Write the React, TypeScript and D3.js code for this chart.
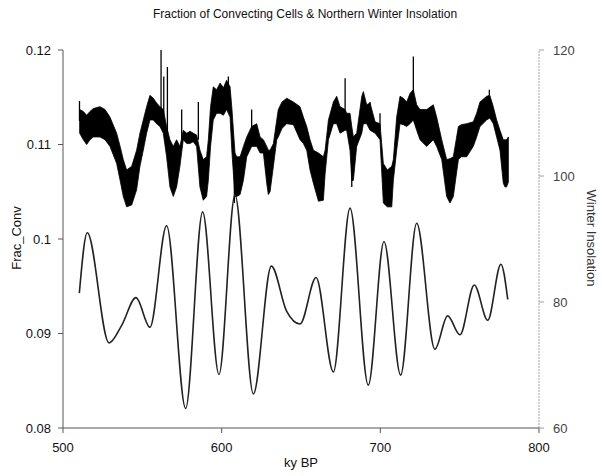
import React from "react";
import * as d3 from "d3";

// ---- Data ----
const xTicks = [500, 600, 700, 800];
const leftTicks = [0.08, 0.09, 0.1, 0.11, 0.12];
const leftTickLabels = ["0.08", "0.09", "0.1", "0.11", "0.12"];
const rightTicks = [60, 80, 100, 120];

// Frac_Conv: high-frequency band, upper and lower envelopes
const bandKy = [510.5, 512.8, 514.9, 517.0, 519.1, 523.3, 526.5, 529.6, 533.8, 536.0, 538.0, 540.1, 543.3, 546.4, 548.5, 550.6, 552.7, 554.8, 556.9, 559.0, 561.1, 563.2, 565.3, 567.4, 569.5, 571.6, 573.7, 575.8, 578.0, 580.0, 582.1, 584.2, 586.3, 588.4, 590.5, 591.6, 593.0, 594.7, 596.8, 599.0, 601.1, 603.1, 605.3, 606.5, 608.4, 609.5, 611.6, 613.7, 615.8, 618.9, 622.1, 624.2, 626.3, 628.4, 629.4, 630.5, 632.6, 634.7, 635.7, 638.0, 641.0, 645.2, 649.4, 651.5, 653.6, 655.7, 657.8, 661.0, 664.1, 665.2, 667.3, 670.4, 672.5, 674.6, 677.8, 678.8, 680.9, 682.0, 683.0, 685.1, 688.3, 689.3, 691.4, 693.5, 696.7, 699.8, 701.9, 704.4, 707.2, 708.2, 710.3, 712.4, 714.5, 716.6, 718.7, 720.8, 722.9, 725.0, 729.2, 733.4, 735.5, 738.7, 741.8, 743.9, 746.0, 749.2, 751.0, 754.4, 758.6, 760.7, 762.8, 767.0, 769.0, 771.2, 773.3, 775.4, 777.5, 778.6, 779.5, 780.7];
const bandUpper = [0.1137, 0.1135, 0.1131, 0.1135, 0.1138, 0.1140, 0.1137, 0.1129, 0.1112, 0.1098, 0.1084, 0.1073, 0.1077, 0.1094, 0.1112, 0.1126, 0.1140, 0.1152, 0.1149, 0.1144, 0.1140, 0.1137, 0.1119, 0.1105, 0.1098, 0.1105, 0.1098, 0.1115, 0.1112, 0.1114, 0.1112, 0.1110, 0.1094, 0.1084, 0.1087, 0.1105, 0.1140, 0.1161, 0.1158, 0.1165, 0.1160, 0.1168, 0.1161, 0.1137, 0.1091, 0.1087, 0.1087, 0.1098, 0.1108, 0.1119, 0.1122, 0.1108, 0.1105, 0.1098, 0.1094, 0.1094, 0.1101, 0.1126, 0.1137, 0.1145, 0.1149, 0.1145, 0.1140, 0.1129, 0.1119, 0.1105, 0.1094, 0.1091, 0.1087, 0.1094, 0.1126, 0.1145, 0.1151, 0.1140, 0.1137, 0.1133, 0.1133, 0.1119, 0.1108, 0.1112, 0.1151, 0.1156, 0.1142, 0.1144, 0.1124, 0.1122, 0.1080, 0.1073, 0.1077, 0.1084, 0.1129, 0.1151, 0.1149, 0.1145, 0.1154, 0.1158, 0.1142, 0.1137, 0.1137, 0.1142, 0.1129, 0.1105, 0.1084, 0.1085, 0.1087, 0.1119, 0.1121, 0.1122, 0.1124, 0.1133, 0.1145, 0.1151, 0.1152, 0.1140, 0.1126, 0.1115, 0.1105, 0.1105, 0.1105, 0.1108];
const bandLower = [0.1112, 0.1105, 0.1100, 0.1105, 0.1108, 0.1108, 0.1105, 0.1098, 0.1080, 0.1062, 0.1045, 0.1034, 0.1036, 0.1052, 0.1077, 0.1094, 0.1112, 0.1126, 0.1126, 0.1122, 0.1119, 0.1112, 0.1087, 0.1055, 0.1045, 0.1055, 0.1077, 0.1105, 0.1101, 0.1101, 0.1103, 0.1098, 0.1055, 0.1041, 0.1045, 0.1062, 0.1098, 0.1126, 0.1133, 0.1133, 0.1131, 0.1137, 0.1129, 0.1091, 0.1045, 0.1045, 0.1047, 0.1062, 0.1087, 0.1098, 0.1098, 0.1091, 0.1091, 0.1059, 0.1047, 0.1050, 0.1077, 0.1105, 0.1108, 0.1117, 0.1122, 0.1121, 0.1105, 0.1101, 0.1094, 0.1073, 0.1059, 0.1040, 0.1041, 0.1069, 0.1105, 0.1122, 0.1122, 0.1112, 0.1115, 0.1115, 0.1094, 0.1062, 0.1062, 0.1098, 0.1112, 0.1122, 0.1122, 0.1115, 0.1112, 0.1105, 0.1038, 0.1034, 0.1034, 0.1062, 0.1094, 0.1122, 0.1121, 0.1119, 0.1122, 0.1126, 0.1115, 0.1105, 0.1098, 0.1105, 0.1098, 0.1084, 0.1045, 0.1038, 0.1045, 0.1084, 0.1087, 0.1087, 0.1098, 0.1108, 0.1119, 0.1126, 0.1128, 0.1122, 0.1108, 0.1094, 0.1059, 0.1055, 0.1055, 0.1060];

// Frac_Conv isolated spikes
const spikeKy = [510.4, 561.8, 563.5, 565.8, 574.8, 585.3, 604.2, 608.0, 618.9, 677.8, 682.0, 693.5, 699.8, 720.8, 768.7];
const spikeFrom = [0.1125, 0.1138, 0.1130, 0.1110, 0.1105, 0.1105, 0.1150, 0.1090, 0.1110, 0.1125, 0.1090, 0.1130, 0.1115, 0.1140, 0.1140];
const spikeTo = [0.1146, 0.1200, 0.1172, 0.1182, 0.1137, 0.1145, 0.1172, 0.1038, 0.1137, 0.1170, 0.1055, 0.1145, 0.1133, 0.1193, 0.1158];

// Winter insolation (right axis)
const insKy = [510.3, 515.3, 529, 537, 546, 554.8, 565.3, 577.3, 588, 598.3, 608.4, 620, 631.3, 641, 649.4, 659.5, 670.4, 680.9, 692.4, 702.3, 712.8, 722.9, 734.4, 742.4, 750.2, 759.2, 767.7, 776, 780.3];
const insVal = [81.4, 91.0, 73.5, 76.3, 80.7, 76.0, 92.1, 63.1, 94.3, 68.5, 97.0, 65.4, 85.7, 78.5, 76.5, 83.9, 68.9, 94.9, 66.8, 89.6, 68.4, 92.5, 72.5, 77.8, 74.8, 82.7, 77.1, 86.0, 80.4];

const W = 602;
const H = 476;
const X0 = 63, X1 = 539, Y0 = 428, Y1 = 50;
const FONT = "'Liberation Sans', Arial, Helvetica, sans-serif";

export default function App() {
  const x = d3.scaleLinear().domain([500, 800]).range([X0, X1]);
  const yL = d3.scaleLinear().domain([0.08, 0.12]).range([Y0, Y1]);
  const yR = d3.scaleLinear().domain([60, 120]).range([Y0, Y1]);

  const band = bandKy.map((k, i) => ({ k, u: bandUpper[i], l: bandLower[i] }));
  const areaGen = d3
    .area<{ k: number; u: number; l: number }>()
    .x((d) => x(d.k))
    .y0((d) => yL(d.l))
    .y1((d) => yL(d.u))
    .curve(d3.curveLinear);

  const ins = insKy.map((k, i) => ({ k, v: insVal[i] }));
  const lineGen = d3
    .line<{ k: number; v: number }>()
    .x((d) => x(d.k))
    .y((d) => yR(d.v))
    .curve(d3.curveMonotoneX);

  return (
    <svg
      width={W}
      height={H}
      style={{ position: "absolute", left: 0, top: 0, background: "#fff" }}
      fontFamily={FONT}
    >
      <rect x={0} y={0} width={W} height={H} fill="#fff" />
      <text x={305} y={18} textAnchor="middle" fontSize={12} fill="#111">
        Fraction of Convecting Cells &amp; Northern Winter Insolation
      </text>

      {/* left axis */}
      <line x1={X0} x2={X0} y1={yL(0.08)} y2={yL(0.12)} stroke="#555" strokeWidth={1} />
      {leftTicks.map((t, i) => (
        <g key={"lt" + i}>
          <line x1={X0 - 5} x2={X0} y1={yL(t)} y2={yL(t)} stroke="#555" />
          <text x={51} y={yL(t) + 4.5} textAnchor="end" fontSize={13} fill="#111">
            {leftTickLabels[i]}
          </text>
        </g>
      ))}
      <text
        transform={`translate(21,${238}) rotate(-90)`}
        textAnchor="middle"
        fontSize={13}
        fill="#111"
      >
        Frac_Conv
      </text>

      {/* bottom axis */}
      <line x1={x(500)} x2={x(800)} y1={Y0} y2={Y0} stroke="#555" />
      {xTicks.map((t) => (
        <g key={"xt" + t}>
          <line x1={x(t)} x2={x(t)} y1={Y0} y2={Y0 + 5} stroke="#555" />
          <text x={x(t)} y={452} textAnchor="middle" fontSize={13} fill="#111">
            {t}
          </text>
        </g>
      ))}
      <text x={x(650)} y={467} textAnchor="middle" fontSize={13} fill="#111">
        ky BP
      </text>

      {/* right axis */}
      <line
        x1={X1}
        x2={X1}
        y1={yR(60)}
        y2={yR(120)}
        stroke="#888"
        strokeWidth={0.8}
        strokeDasharray="2,1"
      />
      {rightTicks.map((t) => (
        <g key={"rt" + t}>
          <line x1={X1} x2={X1 + 5} y1={yR(t)} y2={yR(t)} stroke="#888" strokeWidth={0.8} />
          <text x={553} y={yR(t) + 4.5} textAnchor="start" fontSize={13} fill="#444">
            {t}
          </text>
        </g>
      ))}
      <text
        transform={`translate(587,${238}) rotate(90)`}
        textAnchor="middle"
        fontSize={13}
        fill="#333"
      >
        Winter Insolation
      </text>

      {/* Frac_Conv band */}
      <path d={areaGen(band) || ""} fill="#000" stroke="#000" strokeWidth={0.8} strokeLinejoin="round" />
      {spikeKy.map((k, i) => (
        <line
          key={"sp" + i}
          x1={x(k)}
          x2={x(k)}
          y1={yL(spikeFrom[i])}
          y2={yL(spikeTo[i])}
          stroke="#000"
          strokeWidth={1.3}
        />
      ))}

      {/* insolation */}
      <path d={lineGen(ins) || ""} fill="none" stroke="#222" strokeWidth={1.6} />
    </svg>
  );
}
